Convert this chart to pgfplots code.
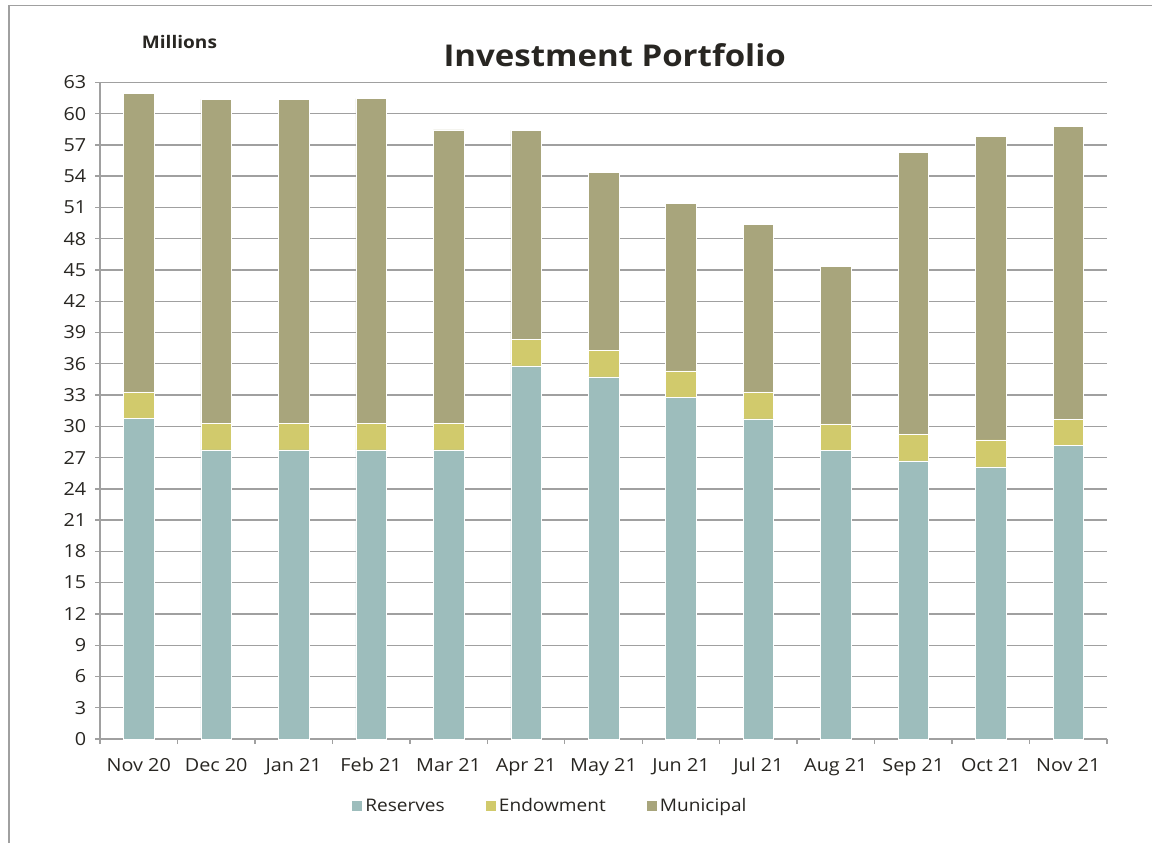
\documentclass[border=0pt]{standalone}
\usepackage{fontspec}
\setmainfont{Open Sans}[FakeStretch=1.1]
\usepackage{pgfplots}
\pgfplotsset{compat=1.18}
\definecolor{resc}{RGB}{157,189,188}
\definecolor{endc}{RGB}{209,202,108}
\definecolor{munc}{RGB}{168,165,124}
\definecolor{gridc}{RGB}{160,160,160}
\definecolor{txtc}{RGB}{40,38,34}
\begin{document}
\begin{tikzpicture}
\path[use as bounding box] (0,0) rectangle (864pt,632.25pt);
\draw[gridc, line width=1pt] (6.75pt,0) -- (6.75pt,628pt) -- (864pt,628pt);
\node[font=\bfseries\fontsize{22.5}{26}\selectfont, text=txtc] at (461pt,591pt) {Investment Portfolio};
\node[font=\bfseries\fontsize{13}{15}\selectfont, text=txtc] at (134.6pt,600.5pt) {Millions};
\begin{axis}[
  at={(75pt,78pt)}, anchor=south west,
  scale only axis, width=755.25pt, height=492.5pt,
  ybar stacked, bar width=22.9pt,
  xmin=-0.5, xmax=12.5, ymin=0, ymax=63,
  axis x line=bottom, axis y line=left,
  axis line style={-, gridc, line width=1pt},
  xtick={0,...,12},
  xticklabels={Nov 20,Dec 20,Jan 21,Feb 21,Mar 21,Apr 21,May 21,Jun 21,Jul 21,Aug 21,Sep 21,Oct 21,Nov 21},
  minor xtick={-0.5,0.5,...,12.5},
  ytick={0,3,...,63},
  tick align=outside,
  major tick length=3.75pt,
  minor tick length=3.75pt,
  x tick style={draw=none},
  minor x tick style={draw=gridc, line width=1pt},
  y tick style={draw=gridc, line width=1pt},
  ymajorgrids, grid style={gridc, line width=1pt},
  /pgf/number format/assume math mode=true,
  tick label style={font=\fontsize{13.5}{16}\selectfont, text=txtc},
  xticklabel style={yshift=-7pt},
  yticklabel style={xshift=-3pt},
  legend columns=3,
  legend style={draw=none, at={(0.447,-0.102)}, anchor=center,
    font=\fontsize{13}{15}\selectfont, text=txtc,
    /tikz/every even column/.append style={column sep=28pt}},
  legend image code/.code={\fill[#1] (0pt,-4.1pt) rectangle (8.25pt,4.1pt);},
]
\addplot[fill=resc, draw=white, line width=0.4pt] coordinates {
 (0,30.75) (1,27.74) (2,27.74) (3,27.74) (4,27.74) (5,35.80) (6,34.74)
 (7,32.76) (8,30.72) (9,27.71) (10,26.69) (11,26.10) (12,28.16)};
\addplot[fill=endc, draw=white, line width=0.4pt] coordinates {
 (0,2.55) (1,2.56) (2,2.56) (3,2.56) (4,2.56) (5,2.53) (6,2.56)
 (7,2.56) (8,2.58) (9,2.53) (10,2.56) (11,2.60) (12,2.52)};
\addplot[fill=munc, draw=white, line width=0.4pt] coordinates {
 (0,28.65) (1,31.07) (2,31.10) (3,31.13) (4,28.13) (5,20.07) (6,17.07)
 (7,16.05) (8,16.05) (9,15.09) (10,27.04) (11,29.09) (12,28.10)};
\legend{Reserves,Endowment,Municipal}
\end{axis}
\end{tikzpicture}
\end{document}
